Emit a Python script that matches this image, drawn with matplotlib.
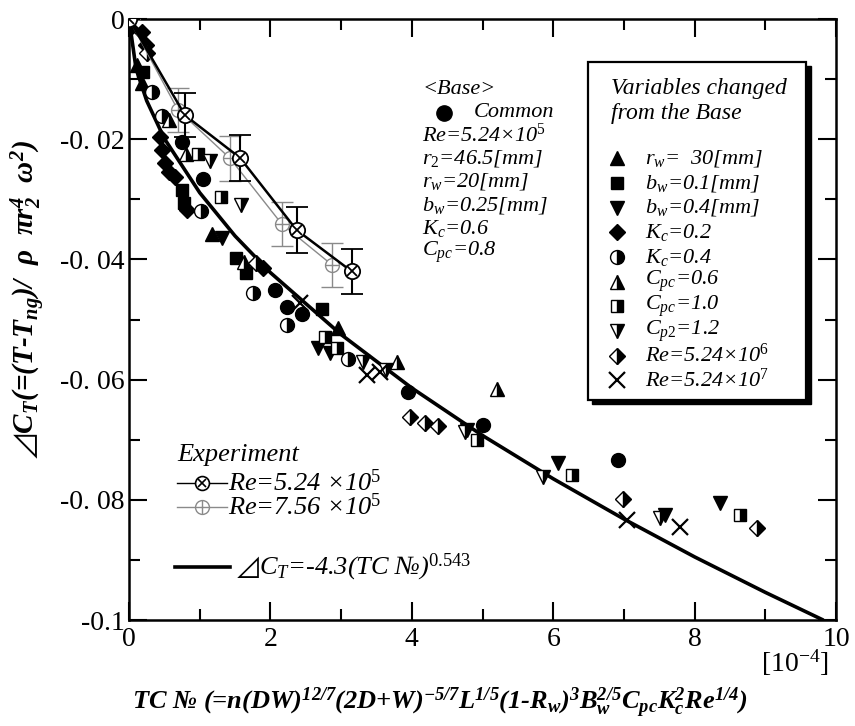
import matplotlib
matplotlib.use("Agg")
import matplotlib.pyplot as plt
from matplotlib.patches import Rectangle
from matplotlib.ticker import MultipleLocator, FuncFormatter

plt.rcParams['font.family'] = ['Liberation Serif', 'DejaVu Sans']
plt.rcParams['mathtext.fontset'] = 'custom'
plt.rcParams['mathtext.rm'] = 'Liberation Serif'
plt.rcParams['mathtext.it'] = 'Liberation Serif:italic'
plt.rcParams['mathtext.bf'] = 'Liberation Serif:italic:bold'
plt.rcParams['mathtext.fallback'] = 'stix'

# ===============================
# Data (x in 1e-4 TC No units)
# ===============================
# experiment, with error bars
exp524_x = [0, 0.79, 1.57, 2.37, 3.15]
exp524_y = [0, -0.0160, -0.0231, -0.0351, -0.0420]
exp524_err = [0, 0.0037, 0.0038, 0.0038, 0.0038]
exp756_x = [0, 0.69, 1.43, 2.16, 2.87]
exp756_y = [0, -0.0151, -0.0232, -0.0341, -0.0409]
exp756_err = [0, 0.0037, 0.0037, 0.0037, 0.0037]

# correlation curve  dCT = -4.3 (TC No)^0.543
fit_x = [0, 0.1, 0.25, 0.5, 1, 1.5, 2, 3, 4, 5, 6, 7, 8, 9, 9.8]
fit_y = [0, -0.0083, -0.0136, -0.0199, -0.0289, -0.0361, -0.0422, -0.0525,
         -0.0614, -0.0693, -0.0765, -0.0832, -0.0895, -0.0954, -0.0999]

# calculations
common_x = [0.745, 1.04, 2.065, 2.23, 2.45, 3.95, 5.01, 6.92]
common_y = [-0.0204, -0.0266, -0.0451, -0.0479, -0.0490, -0.0620, -0.0676, -0.0733]
rw30_x = [0.11, 0.19, 1.18, 2.95]
rw30_y = [-0.0077, -0.0106, -0.0357, -0.0514]
bw01_x = [0.20, 0.745, 0.78, 1.52, 1.66, 2.73]
bw01_y = [-0.0088, -0.0285, -0.0306, -0.0398, -0.0423, -0.0483]
bw04_x = [1.31, 2.67, 2.84, 4.78, 6.07, 7.58, 8.36]
bw04_y = [-0.0365, -0.0547, -0.0556, -0.0684, -0.0739, -0.0825, -0.0806]
kc02_x = [0.01, 0.18, 0.24, 0.44, 0.47, 0.51, 0.56, 0.65, 0.82, 1.90]
kc02_y = [-0.0015, -0.0021, -0.0043, -0.0196, -0.0218, -0.0240, -0.0254, -0.0263, -0.0318, -0.0415]
kc04_x = [0.32, 0.46, 1.02, 1.76, 2.23, 3.10]
kc04_y = [-0.0121, -0.0161, -0.0319, -0.0456, -0.0509, -0.0565]
cpc06_x = [0.57, 0.81, 1.62, 3.79, 5.20]
cpc06_y = [-0.0168, -0.0225, -0.0405, -0.0570, -0.0615]
cpc10_x = [0.97, 1.30, 2.77, 2.94, 4.92, 6.26, 8.64]
cpc10_y = [-0.0224, -0.0296, -0.0529, -0.0547, -0.0700, -0.0759, -0.0825]
cp212_x = [1.15, 1.59, 3.31, 3.64, 4.75, 5.86, 7.51]
cp212_y = [-0.0236, -0.0309, -0.0570, -0.0584, -0.0687, -0.0762, -0.0831]
re6_x = [0.25, 1.80, 3.97, 4.19, 4.37, 6.99, 8.88]
re6_y = [-0.0057, -0.0406, -0.0662, -0.0673, -0.0678, -0.0798, -0.0847]
re7_x = [2.42, 3.36, 3.55, 7.04, 7.79]
re7_y = [-0.0473, -0.0592, -0.0587, -0.0834, -0.0845]

variable_labels = [
    r"$r_{w}$=  30[mm]",
    r"$b_{w}$=0.1[mm]",
    r"$b_{w}$=0.4[mm]",
    r"$K_{c}$=0.2",
    r"$K_{c}$=0.4",
    r"$C_{pc}$=0.6",
    r"$C_{pc}$=1.0",
    r"$C_{p2}$=1.2",
    r"$Re$=5.24×10$^{6}$",
    r"$Re$=5.24×10$^{7}$",
]
base_labels = [r"$Re$=5.24×10$^{5}$", r"$r_{2}$=46.5[mm]", r"$r_{w}$=20[mm]",
               r"$b_{w}$=0.25[mm]", r"$K_{c}$=0.6", r"$C_{pc}$=0.8"]

# marker, fillstyle, size
VAR_SERIES = [
    (rw30_x, rw30_y, '^', 'full', 10),
    (bw01_x, bw01_y, 's', 'full', 9),
    (bw04_x, bw04_y, 'v', 'full', 10),
    (kc02_x, kc02_y, 'D', 'full', 8),
    (kc04_x, kc04_y, 'o', 'right', 10),
    (cpc06_x, cpc06_y, '^', 'right', 10),
    (cpc10_x, cpc10_y, 's', 'right', 9),
    (cp212_x, cp212_y, 'v', 'right', 10),
    (re6_x, re6_y, 'D', 'right', 8),
    (re7_x, re7_y, 'x', 'full', 11),
]

def mstyle(marker, fill, size):
    return dict(marker=marker, fillstyle=fill, markersize=size,
                markerfacecolor='black', markerfacecoloralt='white',
                markeredgecolor='black', markeredgewidth=1.6 if marker == 'x' else 1.0,
                linestyle='none')

# ===============================
# Figure
# ===============================
fig = plt.figure(figsize=(8.55, 7.26), dpi=100)
ax = fig.add_axes([0.1509, 0.146, 0.8269, 0.8278])

ax.plot(fit_x, fit_y, color='black', lw=2.6, zorder=2)

for xs, ys, m, f, s in VAR_SERIES:
    ax.plot(xs, ys, zorder=3, **mstyle(m, f, s))
ax.plot(common_x, common_y, zorder=3, **mstyle('o', 'full', 10))

# experiments
ax.errorbar(exp756_x, exp756_y, yerr=exp756_err, color='#8a8a8a', lw=1.0,
            elinewidth=1.0, capsize=8, capthick=1.0, marker='o', ms=10,
            mfc='white', mec='#8a8a8a', zorder=4)
ax.plot(exp756_x, exp756_y, linestyle='none', marker='+', ms=10,
        mec='#8a8a8a', mew=1.0, zorder=5)
ax.errorbar(exp524_x, exp524_y, yerr=exp524_err, color='black', lw=1.8,
            elinewidth=1.5, capsize=8, capthick=1.5, marker='o', ms=11,
            mfc='white', mec='black', mew=1.3, zorder=6)
ax.plot(exp524_x, exp524_y, linestyle='none', marker='x', ms=7,
        mec='black', mew=1.3, zorder=7)

# axes
ax.set_xlim(0, 10)
ax.set_ylim(-0.1, 0)
ax.xaxis.set_major_locator(MultipleLocator(2))
ax.xaxis.set_minor_locator(MultipleLocator(1))
ax.yaxis.set_major_locator(MultipleLocator(0.02))
ax.yaxis.set_minor_locator(MultipleLocator(0.01))

def ytick_fmt(v, _):
    if abs(v) < 1e-9:
        return "0"
    if abs(v + 0.1) < 1e-9:
        return "-0.1"
    s = f"{v:.2f}"
    return s[:3] + " " + s[3:]

ax.yaxis.set_major_formatter(FuncFormatter(ytick_fmt))
ax.xaxis.set_major_formatter(FuncFormatter(lambda v, _: f"{v:.0f}"))
ax.tick_params(which='both', direction='in', top=True, right=True, width=1.5,
               labelsize=20)
ax.tick_params(axis='y', which='major', length=13, pad=3)
ax.tick_params(axis='x', which='major', length=13, pad=5)
ax.tick_params(which='minor', length=8)
for sp in ax.spines.values():
    sp.set_linewidth(1.8)

# ---- base text block
TXT = dict(fontsize=16, style='italic', va='center', ha='left')
ax.text(4.15, -0.0118, "<Base>", **TXT)
ax.plot([4.45], [-0.0156], **mstyle('o', 'full', 11))
ax.text(4.88, -0.0156, "Common", **TXT)
for i, lab in enumerate(base_labels):
    ax.text(4.14, -0.0193 - 0.0039 * i, lab, **TXT)

# ---- variables box
BOX = dict(TXT, fontsize=16, zorder=10)
ax.add_patch(Rectangle((6.55, -0.0641), 3.09, 0.0563, facecolor='black',
                       edgecolor='black', zorder=8))
ax.add_patch(Rectangle((6.49, -0.0634), 3.09, 0.0563, facecolor='white',
                       edgecolor='black', lw=1.6, zorder=9))
ax.text(6.82, -0.0116, "Variables changed", **dict(BOX, fontsize=17))
ax.text(6.82, -0.0158, "from the Base", **dict(BOX, fontsize=17))
for i, ((xs, ys, m, f, s), lab) in enumerate(zip(VAR_SERIES, variable_labels)):
    yy = -0.0232 - 0.0041 * i
    ax.plot([6.90], [yy], zorder=10, clip_on=False, **mstyle(m, f, s))
    ax.text(7.30, yy, lab, **BOX)

# ---- experiment legend
EXP = dict(TXT, fontsize=19)
ax.text(0.68, -0.0725, "Experiment", **EXP)
ax.plot([0.68, 1.39], [-0.0772, -0.0772], color='black', lw=1.0)
ax.plot([1.03], [-0.0772], marker='o', ms=10, mfc='white', mec='black', mew=1.2)
ax.plot([1.03], [-0.0772], marker='x', ms=6, mec='black', mew=1.2)
ax.text(1.40, -0.0772, r"$Re$=5.24 ×10$^{5}$", **EXP)
ax.plot([0.68, 1.39], [-0.0812, -0.0812], color='#8a8a8a', lw=1.0)
ax.plot([1.03], [-0.0812], marker='o', ms=10, mfc='white', mec='#8a8a8a', mew=1.0)
ax.plot([1.03], [-0.0812], marker='+', ms=10, mec='#8a8a8a', mew=1.0)
ax.text(1.40, -0.0812, r"$Re$=7.56 ×10$^{5}$", **EXP)
ax.plot([0.65, 1.43], [-0.0912, -0.0912], color='black', lw=2.6)
ax.text(1.50, -0.0912, r"$⊿C_{T}$=-4.3(TC №)$^{0.543}$", **EXP)

# ---- labels
fig.text(795 / 855, 1 - 663 / 726, r"[10$^{-4}$]", fontsize=20, ha='center', va='center')
fig.text(440 / 855, 1 - 703 / 726,
         r"TC № (=n(DW)$^{\mathbf{12/7}}$(2D+W)$^{\mathbf{-5/7}}$L$^{\mathbf{1/5}}$"
         r"(1-R$_{\mathbf{w}}$)$^{\mathbf{3}}$B$_{\mathbf{w}}^{\mathbf{2/5}}$"
         r"C$_{\mathbf{pc}}$K$_{\mathbf{c}}^{\mathbf{2}}$Re$^{\mathbf{1/4}}$)",
         fontsize=19, fontweight='bold', style='italic', ha='center', va='center')
fig.text(28 / 855, 1 - 300 / 726,
         r"$⊿$C$_{\mathbf{T}}$(=(T-T$_{\mathbf{ng}}$)/  ρ  πr$_{\mathbf{2}}^{\mathbf{4}}$  ω$^{\mathbf{2}}$)",
         fontsize=21, fontweight='bold', style='italic', rotation=90,
         ha='center', va='center')

fig.savefig("out.png", dpi=100)
